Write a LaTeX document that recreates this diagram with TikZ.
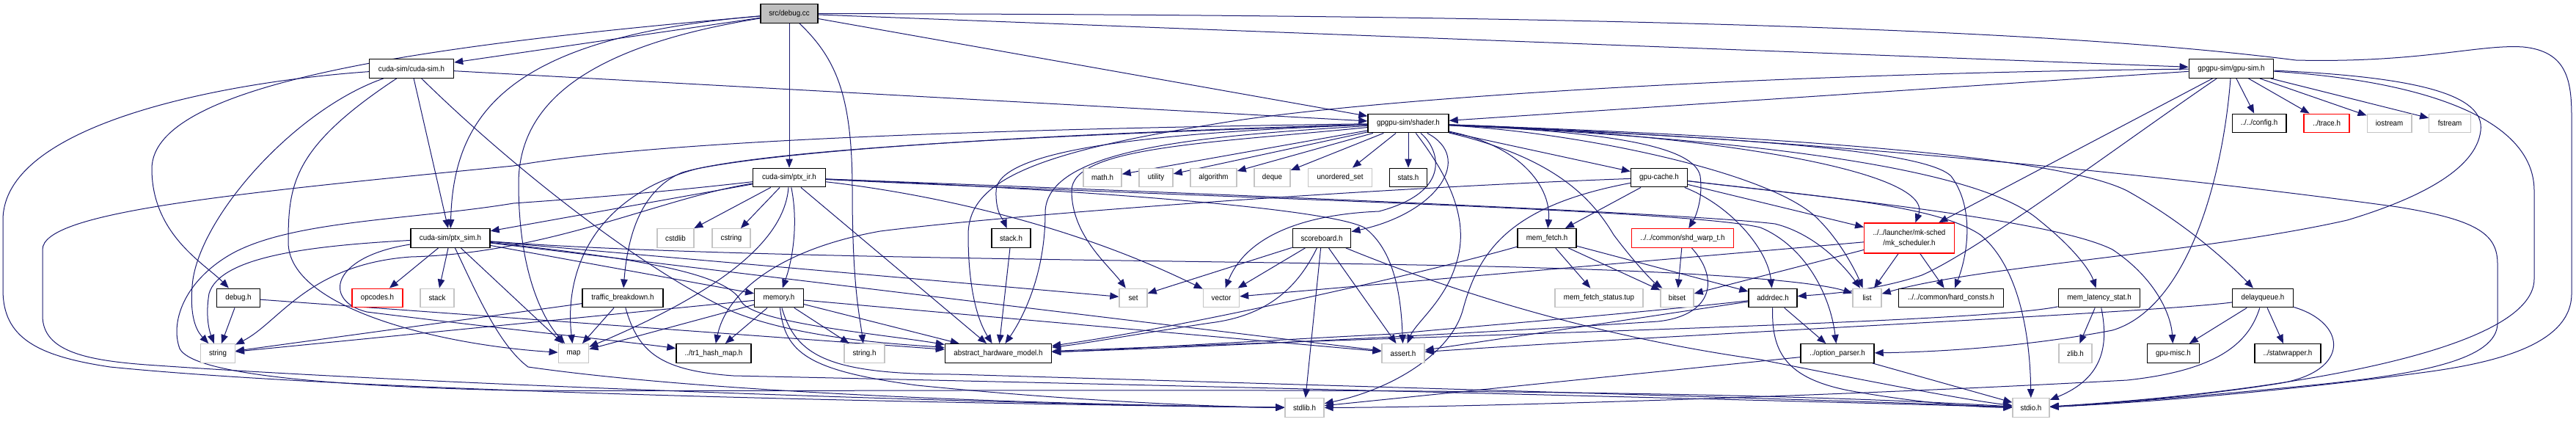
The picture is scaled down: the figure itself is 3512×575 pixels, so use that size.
\documentclass[tikz,border=0pt]{standalone}
\usepackage{fontspec}
\setmainfont{Liberation Sans}[FakeStretch=0.93]
\usetikzlibrary{arrows.meta}
\definecolor{edgec}{HTML}{191970}
\definecolor{grayb}{HTML}{C4C4C4}
\definecolor{fillg}{HTML}{BFBFBF}
\pgfdeclarelayer{bgl}
\pgfdeclarelayer{edges}
\pgfsetlayers{bgl,edges,main}
\begin{document}
\begin{tikzpicture}[x=1pt,y=-1pt,
  nb/.style={draw=black, line width=1.4pt, fill=white, inner sep=0pt, minimum height=25.5pt, font=\fontsize{10.5}{14}\selectfont, text=black, align=center},
  ng/.style={nb, draw=grayb},
  nr/.style={nb, draw=red},
  edg/.style={draw=edgec, line width=1pt, -{Triangle[length=12pt,width=9.5pt]}}]
\begin{pgfonlayer}{bgl}
\fill[white] (0,0) rectangle (3512,575);
\end{pgfonlayer}
\useasboundingbox (0,0) rectangle (3512,575);
% row 0
\node[nb, fill=fillg, minimum width=78pt] (dbgcc) at (1076,18.5) {src/debug.cc};
% row 1
\node[nb, minimum width=115pt] (cudasim) at (561,93.5) {cuda-sim/cuda-sim.h};
\node[nb, minimum width=115.5pt] (gpusim) at (3042,93.5) {gpgpu-sim/gpu-sim.h};
% row 2
\node[nb, minimum width=110pt] (shader) at (1920,168) {gpgpu-sim/shader.h};
\node[nb, minimum width=73.6pt] (config) at (3080,168) {../../config.h};
\node[nr, minimum width=61.7pt] (trace) at (3172,168) {../trace.h};
\node[ng, minimum width=60.6pt] (iostream) at (3257.5,168) {iostream};
\node[ng, minimum width=56.5pt] (fstream) at (3340,168) {fstream};
% row 3
\node[nb, minimum width=99pt] (ptxir) at (1076,242) {cuda-sim/ptx\_ir.h};
\node[ng, minimum width=52pt] (mathh) at (1503,242) {math.h};
\node[ng, minimum width=46pt] (utility) at (1576,242) {utility};
\node[ng, minimum width=63pt] (algorithm) at (1654.5,242) {algorithm};
\node[ng, minimum width=49pt] (deque) at (1734.5,242) {deque};
\node[ng, minimum width=86.5pt] (uset) at (1827,242) {unordered\_set};
\node[nb, minimum width=51.5pt] (stats) at (1920,242) {stats.h};
\node[nb, minimum width=77pt] (gpucache) at (2262,242) {gpu-cache.h};
% row 4
\node[nb, minimum width=108pt] (ptxsim) at (614,324.5) {cuda-sim/ptx\_sim.h};
\node[ng, minimum width=50pt] (cstdlib) at (921,324.5) {cstdlib};
\node[ng, minimum width=52pt] (cstring) at (997,324.5) {cstring};
\node[nb, minimum width=53pt] (stackh) at (1378.5,324.5) {stack.h};
\node[nb, minimum width=79.5pt] (scoreboard) at (1802,324.5) {scoreboard.h};
\node[nb, minimum width=80pt] (memfetch) at (2109,324.5) {mem\_fetch.h};
\node[nr, minimum width=139.5pt] (shdwarp) at (2294,324.5) {../../common/shd\_warp\_t.h};
\node[nr, minimum width=122.5pt, minimum height=41pt] (mksched) at (2603,324.5) {../../launcher/mk-sched\\/mk\_scheduler.h};
% row 5
\node[nb, minimum width=59pt] (debugh) at (325,406) {debug.h};
\node[nr, minimum width=69pt] (opcodes) at (514.5,406) {opcodes.h};
\node[ng, minimum width=46pt] (stack) at (596,406) {stack};
\node[nb, minimum width=110pt] (traffic) at (849,406) {traffic\_breakdown.h};
\node[nb, minimum width=66.5pt] (memoryh) at (1062,406) {memory.h};
\node[ng, minimum width=38pt] (set) at (1545,406) {set};
\node[ng, minimum width=49pt] (vector) at (1665,406) {vector};
\node[ng, minimum width=120pt] (mfstatus) at (2180,406) {mem\_fetch\_status.tup};
\node[ng, minimum width=45pt] (bitset) at (2286.5,406) {bitset};
\node[nb, minimum width=66pt] (addrdec) at (2417,406) {addrdec.h};
\node[ng, minimum width=39pt] (list) at (2545.5,406) {list};
\node[nb, minimum width=143pt] (hardconsts) at (2660,406) {../../common/hard\_consts.h};
\node[nb, minimum width=111.5pt] (memlat) at (2862,406) {mem\_latency\_stat.h};
\node[nb, minimum width=82.5pt] (delayq) at (3085,406) {delayqueue.h};
% row 6
\node[ng, minimum width=46.5pt] (stringg) at (297,481.5) {string};
\node[ng, minimum width=41.4pt] (map) at (782,481.5) {map};
\node[nb, minimum width=102pt] (tr1) at (973,481.5) {../tr1\_hash\_map.h};
\node[ng, minimum width=55pt] (stringh) at (1178.5,481.5) {string.h};
\node[nb, minimum width=145pt] (ahm) at (1361,481.5) {abstract\_hardware\_model.h};
\node[ng, minimum width=58pt] (assert) at (1913,481.5) {assert.h};
\node[nb, minimum width=100pt] (optparser) at (2505,481.5) {../option\_parser.h};
\node[ng, minimum width=45pt] (zlib) at (2829.5,481.5) {zlib.h};
\node[nb, minimum width=70.5pt] (gpumisc) at (2963,481.5) {gpu-misc.h};
\node[nb, minimum width=90pt] (statwrapper) at (3119,481.5) {../statwrapper.h};
% row 7
\node[ng, minimum width=53pt] (stdlib) at (1778.5,555.5) {stdlib.h};
\node[ng, minimum width=50pt] (stdio) at (2769,555.5) {stdio.h};

\begin{pgfonlayer}{edges}
% src/debug.cc
\draw[edg] (dbgcc) -- (cudasim);
\draw[edg] (dbgcc) .. controls (700,50) and (618,150) .. (ptxsim);
\draw[edg] (dbgcc) .. controls (600,60) and (207,110) .. (207,230) .. controls (207,320) and (280,360) .. (debugh);
\draw[edg] (dbgcc) .. controls (820,60) and (707,130) .. (707,250) .. controls (707,380) and (745,440) .. (map);
\draw[edg] (dbgcc) -- (ptxir);
\draw[edg] (dbgcc) .. controls (1140,80) and (1162,130) .. (1162,260) .. controls (1162,390) and (1172,430) .. (stringh);
\draw[edg] (dbgcc) -- (shader);
\draw[edg] (dbgcc) -- (gpusim);
\draw[edg] (dbgcc) .. controls (2200,20) and (2800,40) .. (3130,82) .. controls (3300,86) and (3380,60) .. (3440,64) .. controls (3500,70) and (3506,110) .. (3506,160) -- (3506,400) .. controls (3506,470) and (3400,495) .. (3300,508) .. controls (3100,535) and (2900,550) .. (stdio);
% cuda-sim.h
\draw[edg] (cudasim) .. controls (300,112) and (4,170) .. (4,300) -- (4,395) .. controls (4,460) and (50,485) .. (150,500) .. controls (500,535) and (1300,550) .. (stdlib);
\draw[edg] (cudasim) .. controls (400,150) and (268,300) .. (262,390) .. controls (258,440) and (272,455) .. (stringg);
\draw[edg] (cudasim) .. controls (400,200) and (393,250) .. (393,330) .. controls (393,420) and (600,470) .. (map);
\draw[edg] (cudasim) -- (ptxsim);
\draw[edg] (cudasim) .. controls (700,230) and (880,370) .. (1000,425) .. controls (1100,465) and (1250,470) .. (ahm);
\draw[edg] (cudasim) -- (shader);
% gpu-sim.h
\draw[edg] (gpusim) -- (mksched);
\draw[edg] (gpusim) .. controls (2900,190) and (2700,340) .. (2620,375) .. controls (2560,395) and (2500,400) .. (addrdec);
\draw[edg] (gpusim) .. controls (3030,250) and (2980,420) .. (2880,450) .. controls (2750,475) and (2620,480) .. (optparser);
\draw[edg] (gpusim) -- (config);
\draw[edg] (gpusim) -- (trace);
\draw[edg] (gpusim) -- (iostream);
\draw[edg] (gpusim) -- (fstream);
\draw[edg] (gpusim) .. controls (3300,105) and (3388,130) .. (3382,178) .. controls (3376,230) and (3300,270) .. (3200,300) .. controls (3000,345) and (2700,362) .. (list);
\draw[edg] (gpusim) .. controls (3300,110) and (3455,160) .. (3455,260) -- (3455,380) .. controls (3455,480) and (3100,535) .. (stdio);
\draw[edg] (gpusim) -- (shader);
\draw[edg] (gpusim) .. controls (2400,100) and (1850,135) .. (1650,170) .. controls (1400,210) and (1320,250) .. (1320,320) .. controls (1320,400) and (1335,440) .. (ahm);
% shader.h
\draw[edg] (shader) -- (mathh);
\draw[edg] (shader) -- (utility);
\draw[edg] (shader) -- (algorithm);
\draw[edg] (shader) -- (deque);
\draw[edg] (shader) -- (uset);
\draw[edg] (shader) -- (stats);
\draw[edg] (shader) .. controls (1600,180) and (1360,200) .. (1358,260) .. controls (1357,290) and (1368,300) .. (stackh);
\draw[edg] (shader) .. controls (1650,185) and (1425,200) .. (1425,290) .. controls (1425,380) and (1390,440) .. (ahm);
\draw[edg] (shader) .. controls (1650,195) and (1461,200) .. (1461,260) .. controls (1461,320) and (1510,360) .. (set);
\draw[edg] (shader) .. controls (1500,180) and (1100,200) .. (950,230) .. controls (800,270) and (770,380) .. (map);
\draw[edg] (shader) .. controls (1500,182) and (1050,200) .. (930,235) .. controls (870,260) and (855,330) .. (traffic);
\draw[edg] (shader) .. controls (1400,175) and (900,190) .. (700,226) .. controls (300,265) and (58,290) .. (58,340) -- (58,430) .. controls (58,480) and (120,492) .. (214,498) .. controls (600,525) and (1400,552) .. (stdlib);
\draw[edg] (shader) .. controls (1960,200) and (1985,260) .. (1880,288) .. controls (1780,292) and (1700,320) .. (vector);
\draw[edg] (shader) .. controls (2010,215) and (1960,290) .. (scoreboard);
\draw[edg] (shader) .. controls (1975,240) and (2005,300) .. (1985,360) .. controls (1970,410) and (1930,440) .. (assert);
\draw[edg] (shader) -- (gpucache);
\draw[edg] (shader) .. controls (2080,200) and (2115,260) .. (memfetch);
\draw[edg] (shader) .. controls (2120,215) and (2170,270) .. (2200,320) .. controls (2230,360) and (2255,385) .. (bitset);
\draw[edg] (shader) .. controls (2200,180) and (2310,200) .. (2318,240) .. controls (2322,270) and (2312,295) .. (shdwarp);
\draw[edg] (shader) .. controls (2300,180) and (2640,230) .. (mksched);
\draw[edg] (shader) .. controls (2300,185) and (2620,200) .. (2660,240) .. controls (2690,280) and (2685,340) .. (hardconsts);
\draw[edg] (shader) .. controls (2400,190) and (2700,230) .. (2780,300) .. controls (2830,340) and (2850,370) .. (memlat);
\draw[edg] (shader) .. controls (2400,185) and (2800,210) .. (2900,260) .. controls (2990,310) and (3050,370) .. (delayq);
\draw[edg] (shader) .. controls (2500,190) and (3000,245) .. (3269,282) .. controls (3380,300) and (3405,320) .. (3405,360) -- (3405,440) .. controls (3405,490) and (3300,510) .. (3150,525) .. controls (3000,540) and (2850,552) .. (stdio);
\draw[edg] (shader) .. controls (2150,180) and (2420,235) .. (2480,300) .. controls (2510,330) and (2530,370) .. (list);
% ptx_ir.h
\draw[edg] (ptxir) -- (ptxsim);
\draw[edg] (ptxir) .. controls (900,270) and (750,345) .. (560,350) .. controls (420,360) and (380,440) .. (stringg);
\draw[edg] (ptxir) -- (cstdlib);
\draw[edg] (ptxir) -- (cstring);
\draw[edg] (ptxir) .. controls (1070,320) and (1000,390) .. (map);
\draw[edg] (ptxir) .. controls (1088,300) and (1082,350) .. (memoryh);
\draw[edg] (ptxir) -- (ahm);
\draw[edg] (ptxir) .. controls (1250,262) and (1450,300) .. (vector);
\draw[edg] (ptxir) .. controls (1400,255) and (1800,280) .. (1860,310) .. controls (1900,340) and (1910,400) .. (assert);
\draw[edg] (ptxir) .. controls (1600,262) and (2300,290) .. (2420,305) .. controls (2480,320) and (2520,370) .. (list);
\draw[edg] (ptxir) .. controls (1600,268) and (2300,285) .. (2400,310) .. controls (2460,335) and (2495,400) .. (optparser);
\draw[edg] (ptxir) .. controls (900,262) and (800,270) .. (700,277) .. controls (560,300) and (393,300) .. (312,348) .. controls (250,385) and (232,440) .. (245,475) .. controls (260,505) and (400,525) .. (700,532) .. controls (1300,535) and (2200,522) .. (stdio);
% ptx_sim.h
\draw[edg] (ptxsim) -- (opcodes);
\draw[edg] (ptxsim) -- (stack);
\draw[edg] (ptxsim) .. controls (420,335) and (300,350) .. (285,400) .. controls (280,430) and (285,450) .. (stringg);
\draw[edg] (ptxsim) .. controls (450,350) and (440,410) .. (500,425) .. controls (700,450) and (850,465) .. (tr1);
\draw[edg] (ptxsim) -- (map);
\draw[edg] (ptxsim) -- (memoryh);
\draw[edg] (ptxsim) .. controls (850,350) and (990,370) .. (1010,410) .. controls (1025,440) and (1200,455) .. (ahm);
\draw[edg] (ptxsim) -- (set);
\draw[edg] (ptxsim) -- (assert);
\draw[edg] (ptxsim) .. controls (1000,355) and (1800,355) .. (2100,365) .. controls (2350,372) and (2480,385) .. (list);
\draw[edg] (ptxsim) .. controls (650,400) and (680,470) .. (720,500) .. controls (1000,540) and (1500,552) .. (stdlib);
% memory.h
\draw[edg] (memoryh) -- (stringg);
\draw[edg] (memoryh) -- (map);
\draw[edg] (memoryh) -- (tr1);
\draw[edg] (memoryh) .. controls (1070,480) and (1100,505) .. (1250,525) .. controls (1500,550) and (1700,555) .. (stdlib);
\draw[edg] (memoryh) .. controls (1085,485) and (1130,510) .. (1300,510) .. controls (1800,525) and (2500,545) .. (stdio);
\draw[edg] (memoryh) -- (stringh);
\draw[edg] (memoryh) -- (ahm);
\draw[edg] (memoryh) -- (assert);
% traffic_breakdown.h
\draw[edg] (traffic) -- (stringg);
\draw[edg] (traffic) -- (map);
\draw[edg] (traffic) .. controls (870,480) and (900,505) .. (1000,512) .. controls (1600,525) and (2400,545) .. (stdio);
% debug.h
\draw[edg] (debugh) -- (stringg);
\draw[edg] (debugh) -- (ahm);
% stack.h
\draw[edg] (stackh) -- (ahm);
% scoreboard.h
\draw[edg] (scoreboard) -- (set);
\draw[edg] (scoreboard) -- (vector);
\draw[edg] (scoreboard) .. controls (1770,390) and (1730,430) .. (1650,440) .. controls (1550,455) and (1480,468) .. (ahm);
\draw[edg] (scoreboard) -- (stdlib);
\draw[edg] (scoreboard) -- (assert);
\draw[edg] (scoreboard) .. controls (1950,385) and (2150,455) .. (2400,490) .. controls (2550,520) and (2680,545) .. (stdio);
% gpu-cache.h
\draw[edg] (gpucache) .. controls (1900,255) and (1400,290) .. (1200,315) .. controls (1060,340) and (990,400) .. (tr1);
\draw[edg] (gpucache) -- (memfetch);
\draw[edg] (gpucache) .. controls (2060,280) and (2017,340) .. (1995,420) .. controls (1980,480) and (1900,530) .. (stdlib);
\draw[edg] (gpucache) .. controls (2500,270) and (2800,300) .. (2880,340) .. controls (2940,380) and (2960,430) .. (gpumisc);
\draw[edg] (gpucache) .. controls (2500,270) and (2640,280) .. (2700,320) .. controls (2760,370) and (2768,480) .. (stdio);
\draw[edg] (gpucache) -- (mksched);
\draw[edg] (gpucache) .. controls (2360,280) and (2410,340) .. (addrdec);
% mem_fetch.h
\draw[edg] (memfetch) .. controls (1950,370) and (1620,445) .. (ahm);
\draw[edg] (memfetch) -- (mfstatus);
\draw[edg] (memfetch) -- (bitset);
\draw[edg] (memfetch) -- (addrdec);
% shd_warp_t.h
\draw[edg] (shdwarp) -- (bitset);
\draw[edg] (shdwarp) .. controls (2345,380) and (2335,430) .. (2260,438) .. controls (2000,455) and (1600,475) .. (ahm);
% mk_scheduler.h
\draw[edg] (mksched) -- (list);
\draw[edg] (mksched) -- (hardconsts);
\draw[edg] (mksched) -- (vector);
\draw[edg] (mksched) -- (bitset);
% addrdec.h
\draw[edg] (addrdec) .. controls (2200,430) and (2000,445) .. (1900,455) .. controls (1700,465) and (1500,478) .. (ahm);
\draw[edg] (addrdec) -- (assert);
\draw[edg] (addrdec) -- (optparser);
\draw[edg] (addrdec) .. controls (2415,480) and (2435,515) .. (2520,532) .. controls (2620,550) and (2700,555) .. (stdio);
% delayqueue.h
\draw[edg] (delayq) -- (gpumisc);
\draw[edg] (delayq) -- (statwrapper);
\draw[edg] (delayq) .. controls (3200,440) and (3205,505) .. (3110,522) .. controls (3000,540) and (2850,552) .. (stdio);
\draw[edg] (delayq) .. controls (3065,470) and (3020,505) .. (2900,518) .. controls (2500,540) and (2000,555) .. (stdlib);
\draw[edg] (delayq) .. controls (2950,425) and (2300,455) .. (assert);
% mem_latency_stat.h
\draw[edg] (memlat) .. controls (2700,440) and (2000,455) .. (ahm);
\draw[edg] (memlat) -- (zlib);
\draw[edg] (memlat) .. controls (2875,470) and (2868,515) .. (stdio);
% option_parser.h
\draw[edg] (optparser) -- (stdlib);
\draw[edg] (optparser) -- (stdio);
\end{pgfonlayer}
\end{tikzpicture}
\end{document}
